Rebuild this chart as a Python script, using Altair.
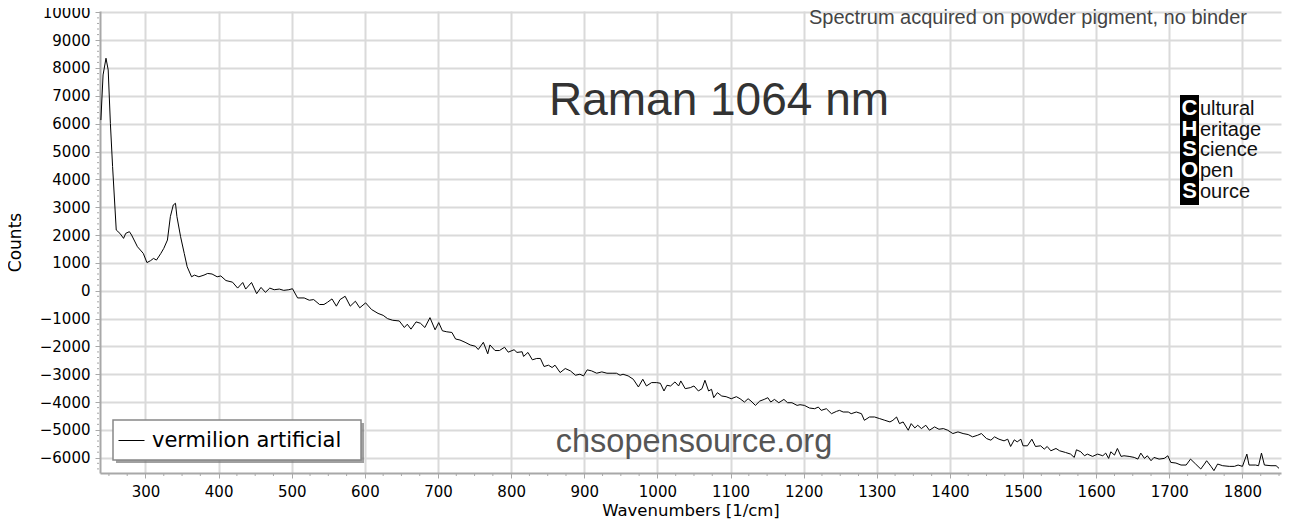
#%%
import pandas as pd
import altair as alt

#%%
# Spectrum values (wavenumber in 1/cm, counts)
wavenumber = [
    239, 242, 246, 249, 252, 255, 260, 265, 270, 273, 278, 281, 289, 293, 297,
    302, 307, 311, 315, 321, 325, 330, 334, 338, 341, 343, 348, 353, 357, 363,
    367, 373, 380, 385, 391, 398,
    403, 410, 419, 426, 433, 437, 445, 452, 458, 464, 470, 476, 483, 489, 496,
    501, 508, 517, 524, 530, 538, 544, 549, 555, 561, 566, 573, 580, 587, 593,
    601, 609, 618, 625, 631, 638, 647, 654, 658, 663, 670, 676, 682, 689, 696,
    701, 706, 712, 719, 724, 730, 737, 744, 751, 755, 762, 768, 771, 778, 784,
    791, 796,
    804, 808, 815, 817, 823, 829, 835, 840, 845, 851, 856, 860, 867, 874, 881,
    888, 894, 899, 904, 910, 917, 924, 931, 938, 944, 949, 953, 960, 967, 974,
    980, 985, 992, 999, 1004, 1009, 1013, 1018, 1024, 1029, 1032, 1038, 1045,
    1050, 1056, 1061, 1065, 1070, 1074, 1077, 1082, 1088, 1094, 1101, 1108,
    1113, 1119, 1124, 1128, 1134, 1140, 1146, 1151, 1155, 1160, 1166, 1173,
    1178, 1184, 1191,
    1195, 1201, 1208, 1215, 1220, 1224, 1231, 1238, 1245, 1249, 1254, 1261,
    1265, 1272, 1279, 1283, 1290, 1297, 1304, 1311, 1318, 1322, 1327, 1331,
    1336, 1343, 1347, 1352, 1356, 1361, 1367, 1372, 1379, 1385, 1391, 1397,
    1404, 1411, 1418, 1425, 1431, 1438, 1443, 1450, 1456, 1461,
    1467, 1474, 1479, 1483, 1488, 1492, 1497, 1500, 1506, 1512, 1517, 1524,
    1529, 1533, 1538, 1545, 1550, 1558, 1565, 1570, 1573, 1579, 1584, 1588,
    1595, 1602, 1609, 1613, 1617, 1620, 1625, 1629, 1634, 1638, 1645, 1652,
    1657, 1661, 1666, 1670, 1675, 1679, 1686, 1693, 1698, 1702, 1709, 1716,
    1723, 1729, 1736, 1743, 1748, 1751, 1757, 1761, 1766, 1773, 1782, 1789,
    1794, 1800, 1806, 1809, 1818, 1822, 1826, 1830, 1839, 1846, 1850,
]
counts = [
    6130, 7750, 8350, 7930, 6010, 4460, 2180, 2060, 1880, 2060, 2120, 2000, 1580, 1460, 1340,
    1010, 1080, 1160, 1100, 1340, 1520, 1820, 2660, 3080, 3140, 2660, 1940, 1340, 860, 500,
    560, 500, 560, 620, 600, 500,
    530, 365, 307, 94, 295, 59, 295, -106, 118, -59, 94, 35, 59, 12, 35,
    71, -260, -260, -342, -319, -496, -496, -413, -295, -555, -319, -200, -555, -378, -614,
    -437, -673, -815, -885, -1003, -1062, -1086, -1322, -1204, -1381, -1121, -1169, -1322, -968, -1405,
    -1145, -1440, -1476, -1500, -1735, -1771, -1853, -1948, -1995, -2113, -1853, -2267, -1948, -2149, -2149,
    -2031, -2208,
    -2120, -2217, -2193, -2361, -2217, -2482, -2434, -2434, -2723, -2675, -2759, -2675, -2940, -2795, -2880,
    -3036, -3000, -3060, -2843, -2880, -2964, -2916, -2964, -2964, -2964, -3036, -3000, -3060, -3180, -3458,
    -3180, -3422, -3301, -3301, -3325, -3602, -3398, -3422, -3277, -3422, -3241, -3518, -3482,
    -3422, -3602, -3518, -3217, -3602, -3542, -3843, -3663, -3783, -3807, -3880, -3807,
    -3880, -4000, -3880, -3964, -4120, -3964, -3904, -3843, -4000, -3904, -4024, -3904,
    -4024, -4024, -4120,
    -4095, -4119, -4214, -4238, -4179, -4298, -4238, -4417, -4333, -4298, -4357, -4357,
    -4417, -4357, -4417, -4655, -4536, -4536, -4595, -4655, -4714, -4655, -4536, -4774,
    -4714, -5012, -4774, -4929, -4833, -4952, -4833, -5012, -4893, -4976, -4952, -5012,
    -5131, -5071, -5131, -5167, -5250, -5190, -5131, -5310, -5369, -5250,
    -5333, -5393, -5333, -5595, -5357, -5429, -5333, -5571, -5571, -5333, -5595, -5571,
    -5690, -5595, -5750, -5667, -5750, -5810, -5869, -5988, -5714, -5786, -5929, -5869,
    -5952, -5869, -5929, -5833, -6024, -5786, -5905, -5667, -5952, -5929, -5952, -5988,
    -6048, -5833, -6024, -5929, -6107, -5988, -6048, -6024, -5929, -6167, -6190, -6262,
    -6262, -6048, -6226, -6405, -6226, -6107, -6310, -6464, -6226, -6286, -6310, -6310,
    -6262, -6310, -5869, -6262, -6262, -6286, -5833, -6262, -6286, -6286, -6381,
]
series_name = "vermilion artificial"

# tick positions and texts
x_ticks = [300, 400, 500, 600, 700, 800, 900, 1000, 1100, 1200, 1300, 1400, 1500, 1600, 1700, 1800]
x_minor = [250, 275, 325, 350, 375, 425, 450, 475, 525, 550, 575, 625, 650, 675, 725, 750, 775,
           825, 850, 875, 925, 950, 975, 1025, 1050, 1075, 1125, 1150, 1175, 1225, 1250, 1275,
           1325, 1350, 1375, 1425, 1450, 1475, 1525, 1550, 1575, 1625, 1650, 1675, 1725, 1750,
           1775, 1825, 1850]
y_ticks = [-6000, -5000, -4000, -3000, -2000, -1000, 0, 1000, 2000, 3000, 4000, 5000,
           6000, 7000, 8000, 9000, 10000]
y_minor = [v for v in range(-6400, 10000, 200) if v % 1000 != 0]

chart_title = "Raman 1064 nm"
note_text = "Spectrum acquired on powder pigment, no binder"
site_text = "chsopensource.org"
logo_letters = ["C", "H", "S", "O", "S"]
logo_words = ["ultural", "eritage", "cience", "pen", "ource"]

#%%
spectrum = pd.DataFrame({"wavenumber": wavenumber, "counts": counts, "sample": series_name})
minor_x = pd.DataFrame({"pos": x_minor})
minor_y = pd.DataFrame({"pos": y_minor})
one_row = pd.DataFrame({"k": [0]})

W, H = 1181, 462
x_scale = alt.Scale(domain=[237.8, 1852.7], nice=False, zero=False)
y_scale = alt.Scale(domain=[-6548, 10047], nice=False, zero=False)

axis_style = dict(
    grid=True, gridColor="#dadada", gridWidth=2,
    domainColor="#a8a8a8", domainWidth=2,
    tickColor="#a8a8a8", tickWidth=1, tickSize=5,
    format="d", labelOverlap=False, labelFlush=False,
    labelFont="DejaVu Sans", labelFontSize=15, labelColor="#000",
    titleFont="DejaVu Sans", titleFontWeight="normal", titleColor="#000",
)
# same axis objects in every layer, so they merge into one axis each
x_axis = alt.Axis(values=x_ticks, title="Wavenumbers [1/cm]", labelPadding=6,
                  titleFontSize=16.5, titlePadding=3, **axis_style)
y_axis = alt.Axis(values=y_ticks, title="Counts", labelPadding=5,
                  titleFontSize=17, titlePadding=15, **axis_style)

#%%
# main spectrum line
line = (alt.Chart(spectrum)
    .mark_line(strokeWidth=1, clip=True)
    .encode(
        alt.X("wavenumber:Q", scale=x_scale, axis=x_axis),
        alt.Y("counts:Q", scale=y_scale, axis=y_axis),
        alt.Color("sample:N", scale=alt.Scale(range=["#000"]),
                  legend=alt.Legend(orient="none", legendX=18, legendY=416, title=None,
                                    labelFont="DejaVu Sans", labelFontSize=21, labelColor="#000",
                                    labelLimit=400,
                                    symbolType="stroke", symbolSize=676, symbolStrokeWidth=1,
                                    symbolStrokeColor="#000", labelOffset=7, padding=0))
    ))

# legend box and its shadow
legend_shadow = (alt.Chart(one_row)
    .mark_rect(fill="#777", opacity=0.7)
    .encode(x=alt.value(16), x2=alt.value(264), y=alt.value(412), y2=alt.value(452)))
legend_box = (alt.Chart(one_row)
    .mark_rect(fill="white", stroke="#888", strokeWidth=1.5)
    .encode(x=alt.value(13), x2=alt.value(261), y=alt.value(409), y2=alt.value(449)))

# minor ticks
ticks_x = (alt.Chart(minor_x)
    .mark_rule(color="#a8a8a8", strokeWidth=1)
    .encode(x=alt.X("pos:Q", scale=x_scale, axis=x_axis), y=alt.value(H + 1), y2=alt.value(H + 3)))
ticks_y = (alt.Chart(minor_y)
    .mark_rule(color="#a8a8a8", strokeWidth=1)
    .encode(y=alt.Y("pos:Q", scale=y_scale, axis=y_axis), x=alt.value(-1), x2=alt.value(-3)))

#%%
# texts inside the plot
title_mark = (alt.Chart(one_row)
    .mark_text(text=chart_title, font="Liberation Sans", fontSize=46, color="#333",
               align="center", baseline="middle")
    .encode(x=alt.value(619), y=alt.value(90)))
note_mark = (alt.Chart(one_row)
    .mark_text(text=note_text, font="Liberation Sans", fontSize=20, color="#444",
               align="right", baseline="middle")
    .encode(x=alt.value(1147), y=alt.value(7)))
site_mark = (alt.Chart(one_row)
    .mark_text(text=site_text, font="Liberation Sans", fontSize=32.5, color="#555",
               align="center", baseline="middle")
    .encode(x=alt.value(594), y=alt.value(431)))

# CHSOS logo
logo_bar = (alt.Chart(one_row)
    .mark_rect(fill="black")
    .encode(x=alt.value(1080), x2=alt.value(1099), y=alt.value(84), y2=alt.value(194)))
logo_caps = (alt.Chart(one_row)
    .mark_text(text=logo_letters, font="Liberation Sans", fontSize=22, fontWeight="bold",
               color="white", align="center", baseline="middle", lineHeight=20.7)
    .encode(x=alt.value(1089.5), y=alt.value(97)))
logo_rest = (alt.Chart(one_row)
    .mark_text(text=logo_words, font="Liberation Sans", fontSize=20, color="#111",
               align="left", baseline="middle", lineHeight=20.7)
    .encode(x=alt.value(1100), y=alt.value(98)))

#%%
chart = (alt.layer(line, ticks_x, ticks_y, legend_shadow, legend_box, title_mark, note_mark,
                   site_mark, logo_bar, logo_caps, logo_rest)
    .properties(width=W, height=H, autosize=alt.AutoSizeParams(type="none"),
                padding={"left": 92, "top": 3, "right": 4, "bottom": 51})
    .configure_view(strokeWidth=0))

chart.save("out.html", embed_options={"renderer": "svg", "actions": False})
